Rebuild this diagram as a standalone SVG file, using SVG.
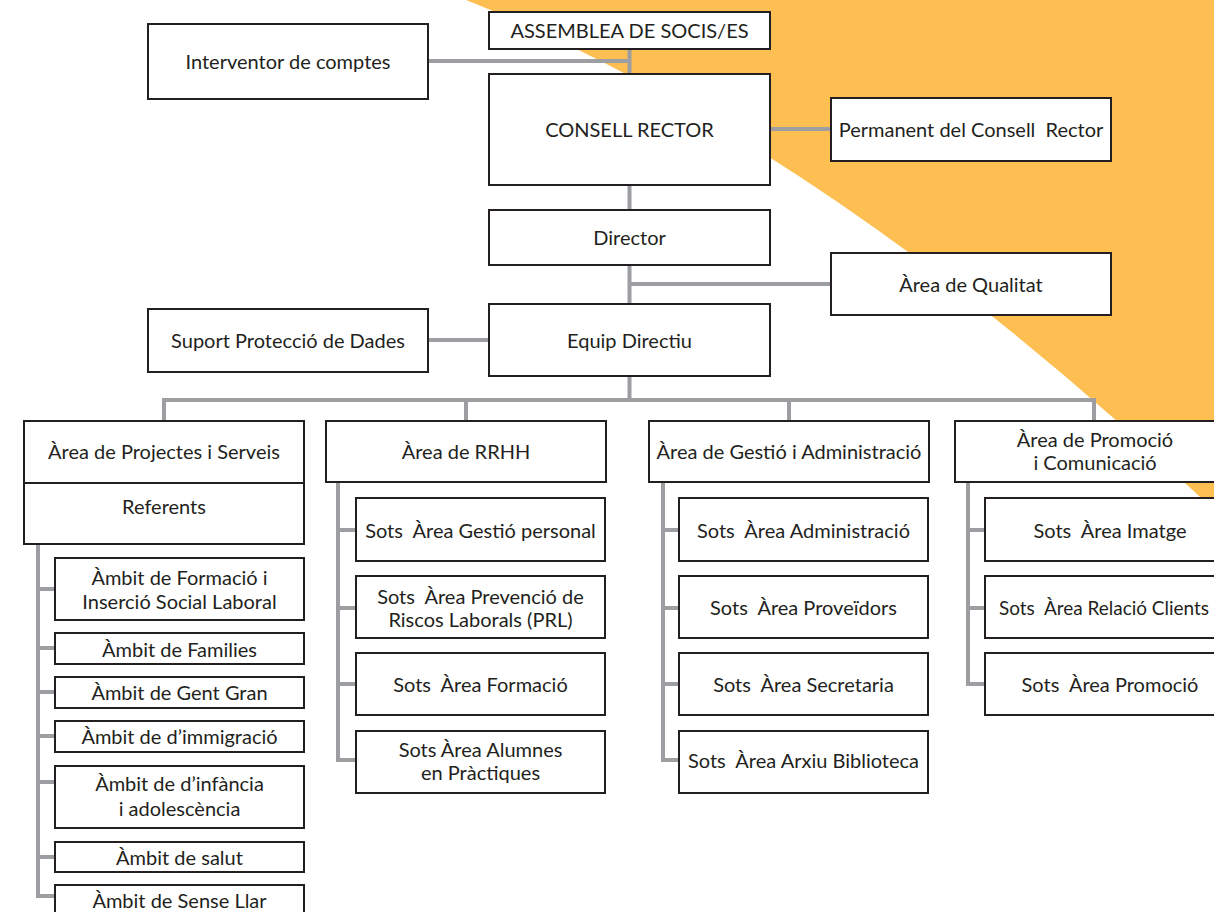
<svg xmlns="http://www.w3.org/2000/svg" width="1214" height="912" viewBox="0 0 1214 912">
<style>
.bg{fill:#FDBE52}
.box{fill:#fff;stroke:#231F20;stroke-width:2}
.ln{fill:none;stroke:#9C9EA1;stroke-width:4;stroke-linejoin:miter;stroke-linecap:butt}
text{font-family:Lato,"Open Sans","Liberation Sans",sans-serif;font-size:20px;fill:#231F20;text-anchor:middle;dominant-baseline:central;white-space:pre}
</style>
<rect x="0" y="0" width="1214" height="912" fill="#fff"/>
<path class="bg" d="M466,0 Q831,146 1214,510 L1214,0 Z"/>
<g id="connectors">
<path class="ln" d="M629.5,48 V74 M428,61 H629.5"/>
<path class="ln" d="M771,129 H830"/>
<path class="ln" d="M629.5,185 V210"/>
<path class="ln" d="M629.5,265 V304 M629.5,284 H830"/>
<path class="ln" d="M428,340 H489"/>
<path class="ln" d="M629.5,376 V400"/>
<path class="ln" d="M164,421 V400 H1094 V421 M466,400 V421 M789,400 V421"/>
<path class="ln" d="M38,544 V896 H55 M38,589 H55 M38,648 H55 M38,692 H55 M38,736 H55 M38,782 H55 M38,857 H55"/>
<path class="ln" d="M338,482 V760 H356 M338,530 H356 M338,608 H356 M338,684 H356"/>
<path class="ln" d="M663,482 V760 H679 M663,530 H679 M663,608 H679 M663,684 H679"/>
<path class="ln" d="M968,482 V684 H985 M968,530 H985 M968,608 H985"/>
</g>
<g id="n-interventor"><rect class="box" x="148" y="24" width="280" height="75"/><text x="288" y="61">Interventor de comptes</text></g>
<g id="n-assemblea"><rect class="box" x="489" y="12" width="281" height="37"/><text x="629.5" y="30">ASSEMBLEA DE SOCIS/ES</text></g>
<g id="n-consell"><rect class="box" x="489" y="74" width="281" height="111"/><text x="629.5" y="129">CONSELL RECTOR</text></g>
<g id="n-permanent"><rect class="box" x="831" y="98" width="280" height="63"/><text x="971" y="129">Permanent del Consell  Rector</text></g>
<g id="n-director"><rect class="box" x="489" y="210" width="281" height="55"/><text x="629.5" y="237">Director</text></g>
<g id="n-qualitat"><rect class="box" x="831" y="253" width="280" height="62"/><text x="971" y="284">Àrea de Qualitat</text></g>
<g id="n-equip"><rect class="box" x="489" y="304" width="281" height="72"/><text x="629.5" y="340">Equip Directiu</text></g>
<g id="n-suport"><rect class="box" x="148" y="309" width="280" height="63"/><text x="288" y="340">Suport Protecció de Dades</text></g>
<g id="n-projectes"><rect class="box" x="24" y="421" width="280" height="123"/><line x1="24" y1="483" x2="304" y2="483" stroke="#231F20" stroke-width="2"/><text x="164" y="451">Àrea de Projectes i Serveis</text><text x="164" y="506">Referents</text></g>
<g id="n-formacio"><rect class="box" x="55" y="558" width="249" height="62"/><text x="179.5" y="577">Àmbit de Formació i</text><text x="179.5" y="601">Inserció Social Laboral</text></g>
<g id="n-families"><rect class="box" x="55" y="633" width="249" height="31"/><text x="179.5" y="649">Àmbit de Families</text></g>
<g id="n-gentgran"><rect class="box" x="55" y="677" width="249" height="31"/><text x="179.5" y="692">Àmbit de Gent Gran</text></g>
<g id="n-immigracio"><rect class="box" x="55" y="721" width="249" height="31"/><text x="179.5" y="736">Àmbit de d’immigració</text></g>
<g id="n-infancia"><rect class="box" x="55" y="766" width="249" height="62"/><text x="179.5" y="783">Àmbit de d’infància</text><text x="179.5" y="808">i adolescència</text></g>
<g id="n-salut"><rect class="box" x="55" y="842" width="249" height="30"/><text x="179.5" y="857">Àmbit de salut</text></g>
<g id="n-senserllar"><rect class="box" x="55" y="885" width="249" height="40"/><text x="179.5" y="900">Àmbit de Sense Llar</text></g>
<g id="n-rrhh"><rect class="box" x="326" y="421" width="280" height="61"/><text x="466" y="451">Àrea de RRHH</text></g>
<g id="n-gestiopersonal"><rect class="box" x="356" y="498" width="249" height="63"/><text x="480.5" y="530">Sots  Àrea Gestió personal</text></g>
<g id="n-prl"><rect class="box" x="356" y="576" width="249" height="62"/><text x="480.5" y="596">Sots  Àrea Prevenció de</text><text x="480.5" y="619">Riscos Laborals (PRL)</text></g>
<g id="n-rrhhformacio"><rect class="box" x="356" y="653" width="249" height="62"/><text x="480.5" y="684">Sots  Àrea Formació</text></g>
<g id="n-alumnes"><rect class="box" x="356" y="731" width="249" height="62"/><text x="480.5" y="749">Sots Àrea Alumnes</text><text x="480.5" y="772">en Pràctiques</text></g>
<g id="n-gestio"><rect class="box" x="649" y="421" width="280" height="61"/><text x="789" y="451">Àrea de Gestió i Administració</text></g>
<g id="n-administracio"><rect class="box" x="679" y="498" width="249" height="63"/><text x="803.5" y="530">Sots  Àrea Administració</text></g>
<g id="n-proveidors"><rect class="box" x="679" y="576" width="249" height="62"/><text x="803.5" y="607">Sots  Àrea Proveïdors</text></g>
<g id="n-secretaria"><rect class="box" x="679" y="653" width="249" height="62"/><text x="803.5" y="684">Sots  Àrea Secretaria</text></g>
<g id="n-arxiu"><rect class="box" x="679" y="731" width="249" height="62"/><text x="803.5" y="760">Sots  Àrea Arxiu Biblioteca</text></g>
<g id="n-promocio"><rect class="box" x="955" y="421" width="290" height="61"/><text x="1095" y="439">Àrea de Promoció</text><text x="1095" y="462">i Comunicació</text></g>
<g id="n-imatge"><rect class="box" x="985" y="498" width="249" height="63"/><text x="1110" y="530">Sots  Àrea Imatge</text></g>
<g id="n-relacio"><rect class="box" x="985" y="576" width="249" height="62"/><text x="1104" y="607" textLength="210" lengthAdjust="spacingAndGlyphs">Sots  Àrea Relació Clients</text></g>
<g id="n-sotspromocio"><rect class="box" x="985" y="653" width="249" height="62"/><text x="1110" y="684">Sots  Àrea Promoció</text></g>
</svg>
